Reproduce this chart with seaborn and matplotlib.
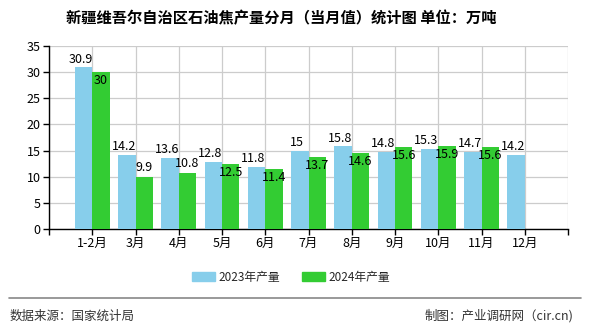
import matplotlib
matplotlib.use("Agg")
import matplotlib.pyplot as plt
import seaborn as sns
import pandas as pd
import numpy as np

months = ["1-2月", "3月", "4月", "5月", "6月", "7月", "8月", "9月", "10月", "11月", "12月"]
prod_2023 = [30.9, 14.2, 13.6, 12.8, 11.8, 15, 15.8, 14.8, 15.3, 14.7, 14.2]
prod_2024 = [30, 9.9, 10.8, 12.5, 11.4, 13.7, 14.6, 15.6, 15.9, 15.6, None]
series_names = ["2023年产量", "2024年产量"]
colors = ["#87CEEB", "#33CC33"]

sns.set_theme(style="white")
plt.rcParams["font.family"] = ["Noto Sans CJK SC", "DejaVu Sans"]

rows = []
for m, a, b in zip(months, prod_2023, prod_2024):
    rows.append({"month": m, "series": series_names[0], "value": a})
    if b is not None:
        rows.append({"month": m, "series": series_names[1], "value": b})
df = pd.DataFrame(rows)

fig = plt.figure(figsize=(5.9, 3.3), dpi=100)
ax = fig.add_axes([49 / 590, 1 - 229 / 330, (568 - 49) / 590, (229 - 46) / 330])

sns.barplot(data=df, x="month", y="value", hue="series", order=months,
            hue_order=series_names, palette=colors, width=0.8, saturation=1,
            errorbar=None, ax=ax, legend=False, zorder=3, linewidth=0,
            edgecolor="none")

ax.set_xlim(-1, len(months))
ax.set_ylim(0, 35)
ax.set_yticks(np.arange(0, 36, 5))
ax.set_xticks(np.arange(-1, len(months) + 1))
ax.set_xticklabels([""] + months + [""])
ax.set_xlabel("")
ax.set_ylabel("")
ax.grid(True, color="#cccccc", linewidth=0.9, zorder=0)
ax.set_axisbelow(True)
for s in ["top", "right"]:
    ax.spines[s].set_visible(False)
for s in ["left", "bottom"]:
    ax.spines[s].set_color("black")
    ax.spines[s].set_linewidth(1)
ax.tick_params(axis="both", which="major", direction="out", length=4,
               width=1, color="black", labelsize=9, labelcolor="black", pad=2,
               bottom=True, left=True)

# value labels: 2023 above bars, 2024 mostly tucked just under the bar top
offs_2024 = [-1.6, 1.8, 1.8, -1.6, -1.6, -1.6, -1.6, -1.6, -1.6, -1.6]
for i, v in enumerate(prod_2023):
    ax.text(i - 0.27, v + 1.6, f"{v:g}", ha="center", va="center", fontsize=9,
            color="black", zorder=5)
for i, v in enumerate(prod_2024):
    if v is None:
        continue
    ax.text(i + 0.2, v + offs_2024[i], f"{v:g}", ha="center", va="center",
            fontsize=9, color="black", zorder=5)

fig.text(281 / 590, 1 - 18 / 330, "新疆维吾尔自治区石油焦产量分月（当月值）统计图 单位：万吨",
         ha="center", va="center", fontsize=11, color="black", fontweight="bold")

# legend
handles = [plt.Rectangle((0, 0), 1, 1, color=c) for c in colors]
fig.legend(handles, series_names, loc="center", bbox_to_anchor=(291 / 590, 1 - 277 / 330),
           ncol=2, frameon=False, fontsize=8.5, handlelength=2.0, handleheight=0.7,
           columnspacing=1.8, handletextpad=0.3)

fig.add_artist(plt.Line2D([9 / 590, 581 / 590], [1 - 298 / 330, 1 - 298 / 330],
                          color="#888888", linewidth=1.2))
fig.text(10 / 590, 1 - 316 / 330, "数据来源：国家统计局", ha="left", va="center",
         fontsize=9, color="#333333")
fig.text(573 / 590, 1 - 316 / 330, "制图：产业调研网（cir.cn)", ha="right", va="center",
         fontsize=9, color="#333333")

fig.savefig("out.png", dpi=100)
